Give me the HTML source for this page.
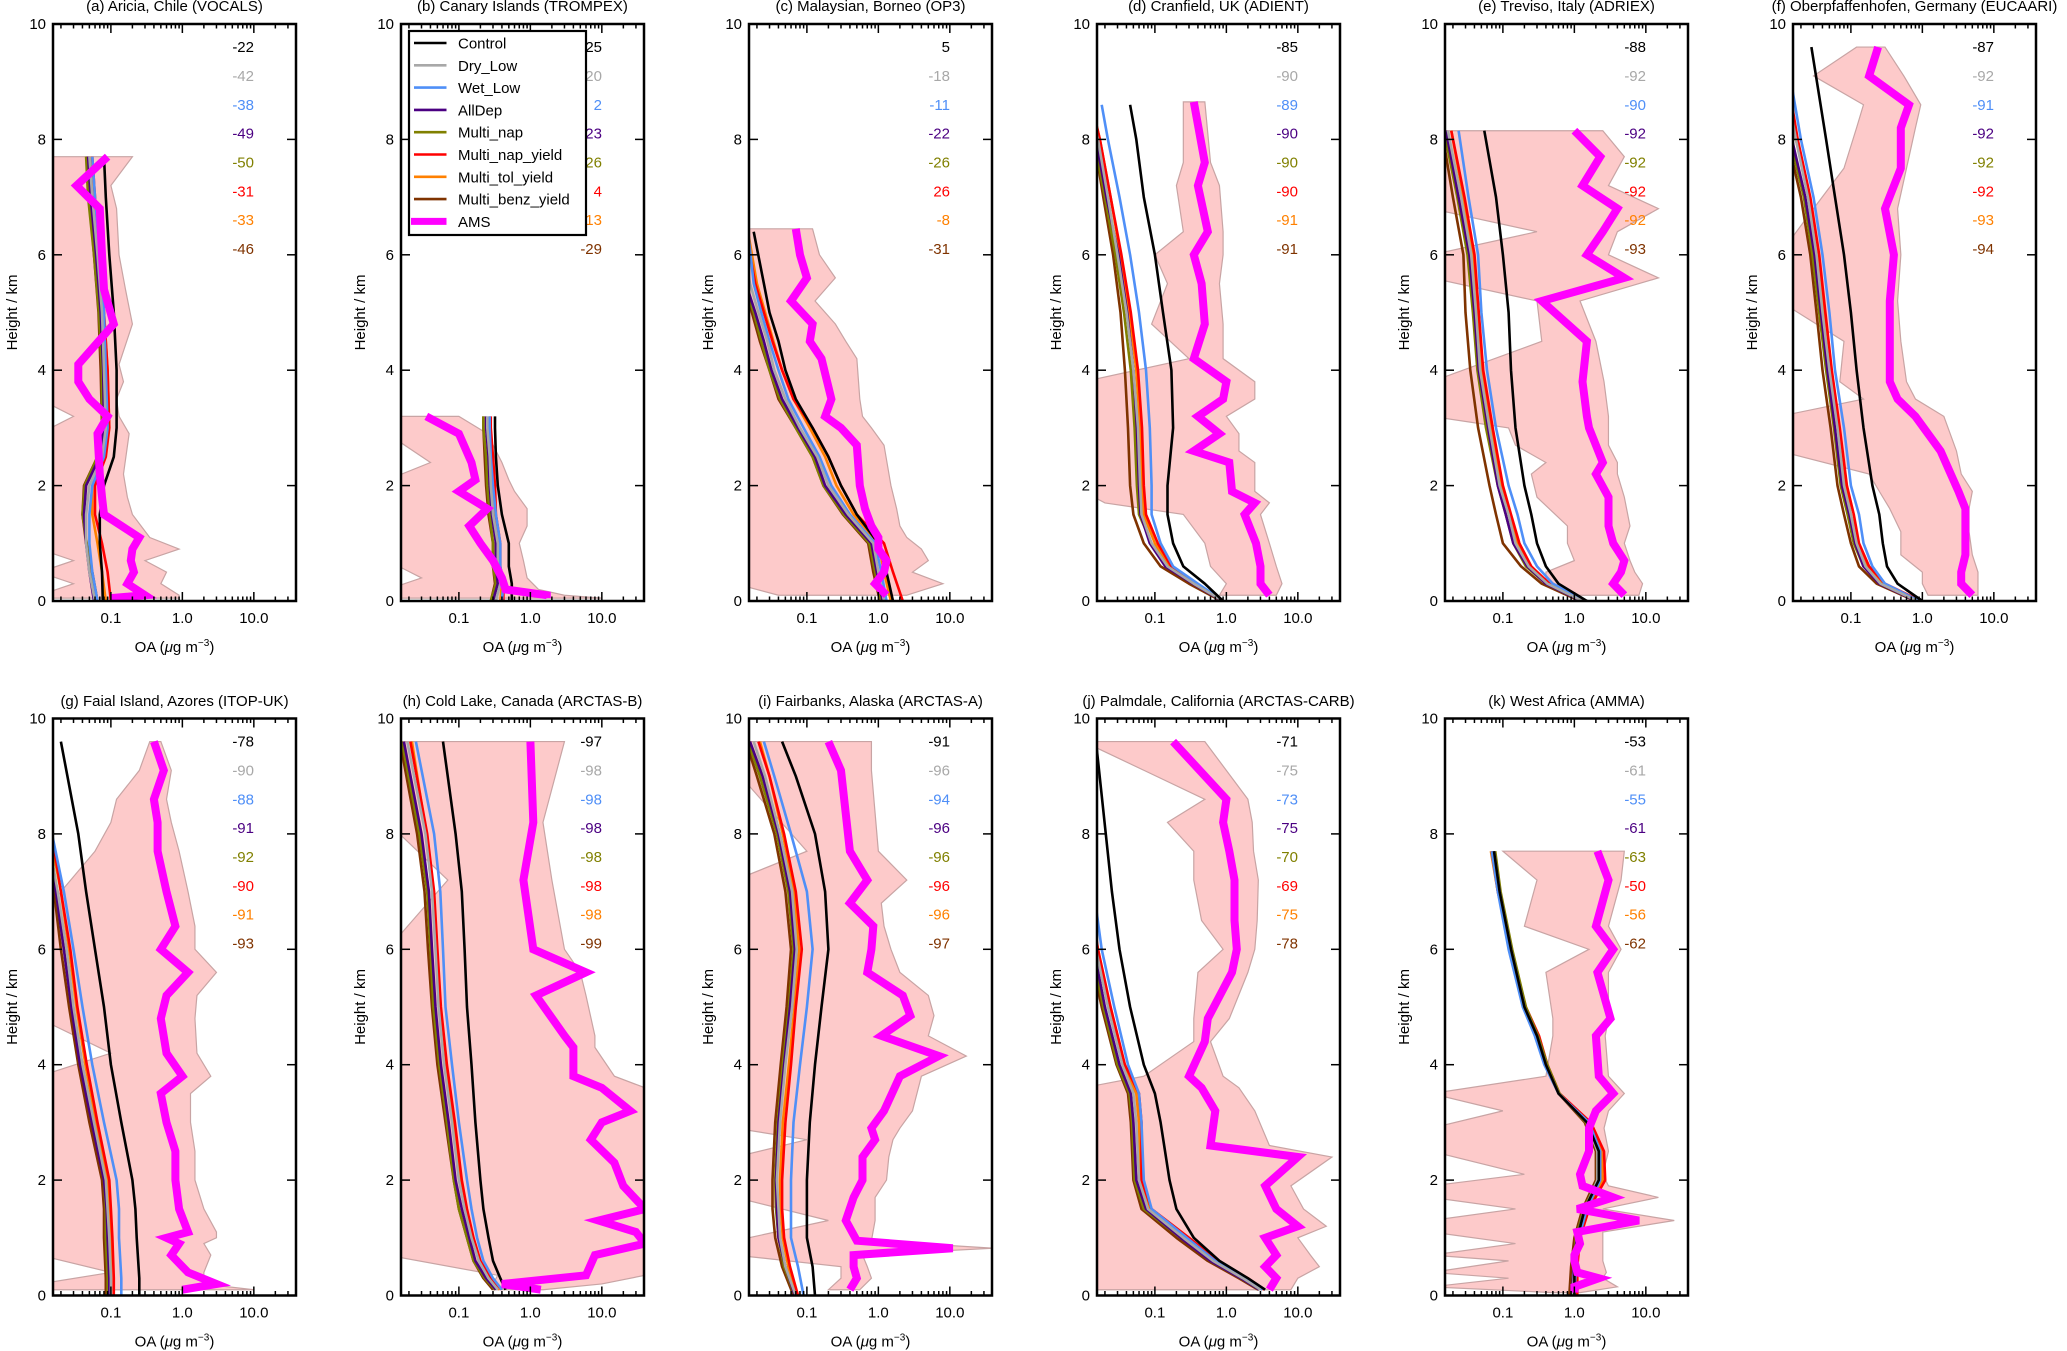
<!DOCTYPE html>
<html><head><meta charset="utf-8"><title>OA vertical profiles</title>
<style>
html,body{margin:0;padding:0;background:#fff;}
svg{display:block;font-family:"Liberation Sans","DejaVu Sans",sans-serif;}
</style></head>
<body>
<svg id="fig" xmlns="http://www.w3.org/2000/svg" width="2067" height="1351" viewBox="0 0 2067 1351"></svg>
<script>
const panelTitles = ["(a) Aricia, Chile (VOCALS)","(b) Canary Islands (TROMPEX)","(c) Malaysian, Borneo (OP3)","(d) Cranfield, UK (ADIENT)","(e) Treviso, Italy (ADRIEX)","(f) Oberpfaffenhofen, Germany (EUCAARI)","(g) Faial Island, Azores (ITOP-UK)","(h) Cold Lake, Canada (ARCTAS-B)","(i) Fairbanks, Alaska (ARCTAS-A)","(j) Palmdale, California (ARCTAS-CARB)","(k) West Africa (AMMA)"];
const seriesNames = ["Control","Dry_Low","Wet_Low","AllDep","Multi_nap","Multi_nap_yield","Multi_tol_yield","Multi_benz_yield"];
const xTickLabels = ["0.1","1.0","10.0"];
const yTickLabels = [0,2,4,6,8,10];
const biasValues = [
[-22,-42,-38,-49,-50,-31,-33,-46],
[25,-20,2,-23,-26,4,-13,-29],
[5,-18,-11,-22,-26,26,-8,-31],
[-85,-90,-89,-90,-90,-90,-91,-91],
[-88,-92,-90,-92,-92,-92,-92,-93],
[-87,-92,-91,-92,-92,-92,-93,-94],
[-78,-90,-88,-91,-92,-90,-91,-93],
[-97,-98,-98,-98,-98,-98,-98,-99],
[-91,-96,-94,-96,-96,-96,-96,-97],
[-71,-75,-73,-75,-70,-69,-75,-78],
[-53,-61,-55,-61,-63,-50,-56,-62]];
const modelHeights = [
[0,0.5,1,1.5,2,2.5,3,4,5,6,7,7.7],
[0,0.3,0.6,1,1.5,2,2.5,3,3.2],
[0,0.5,1,1.5,2,2.5,3,3.5,4,4.5,5,5.5,6.4],
[0,0.3,0.6,1,1.5,2,3,4,5,6,7,8,8.6],
[0,0.3,0.6,1,1.5,2,3,4,5,6,7,8.15],
[0,0.3,0.6,1,1.5,2,3,4,5,6,7,8,9.6],
[0,0.3,1,1.5,2,3,4,5,6,7,8,9.6],
[0.1,0.3,0.6,1,1.5,2,3,4,5,6,7,8,9.6],
[0,0.5,1,1.5,2,3,4,5,6,7,8,9,9.6],
[0.1,0.3,0.6,1,1.5,2,3,3.5,4,5,6,7,9.6],
[0,0.5,1,1.5,2,2.5,3,3.5,4,4.5,5,6,7,7.7]];
const controlOA = [
[0.077,0.075,0.07,0.07,0.08,0.11,0.12,0.12,0.11,0.095,0.085,0.08],
[0.55,0.55,0.5,0.5,0.4,0.35,0.33,0.32,0.32],
[1.6,1.3,1.0,0.5,0.3,0.2,0.12,0.07,0.05,0.04,0.03,0.025,0.018],
[0.9,0.5,0.25,0.18,0.15,0.15,0.18,0.17,0.13,0.1,0.07,0.055,0.045],
[1.5,0.6,0.4,0.3,0.25,0.2,0.15,0.13,0.12,0.1,0.08,0.055],
[1.0,0.45,0.32,0.28,0.25,0.2,0.15,0.12,0.1,0.08,0.06,0.045,0.028],
[0.25,0.25,0.23,0.22,0.2,0.14,0.1,0.08,0.06,0.045,0.035,0.02],
[0.45,0.38,0.3,0.26,0.22,0.2,0.17,0.15,0.13,0.12,0.11,0.09,0.06],
[0.13,0.12,0.1,0.1,0.1,0.11,0.13,0.16,0.2,0.18,0.13,0.07,0.045],
[3.5,2,0.8,0.35,0.2,0.16,0.12,0.1,0.07,0.045,0.032,0.025,0.015],
[1.0,1.0,1.1,1.4,2.2,2.2,1.5,0.6,0.4,0.3,0.2,0.13,0.09,0.075]];
const dryLowOA = [
[0.06,0.05,0.045,0.045,0.05,0.075,0.085,0.08,0.075,0.065,0.055,0.05],
[0.33,0.38,0.35,0.35,0.3,0.28,0.27,0.25,0.25],
[1.2,1.0,0.85,0.38,0.2,0.14,0.08,0.05,0.035,0.028,0.021,0.016,0.012],
[0.9,0.35,0.15,0.09,0.065,0.062,0.058,0.05,0.04,0.03,0.022,0.016,0.012],
[1.3,0.42,0.23,0.15,0.12,0.09,0.065,0.048,0.042,0.036,0.026,0.017],
[0.85,0.26,0.16,0.12,0.1,0.08,0.065,0.05,0.04,0.033,0.025,0.017,0.01],
[0.1,0.1,0.095,0.09,0.085,0.058,0.04,0.03,0.024,0.018,0.013,0.008],
[0.35,0.26,0.19,0.15,0.12,0.1,0.08,0.062,0.052,0.047,0.042,0.034,0.019],
[0.07,0.05,0.042,0.04,0.038,0.042,0.05,0.062,0.072,0.062,0.042,0.026,0.018],
[3.0,1.7,0.65,0.25,0.08,0.06,0.055,0.05,0.035,0.022,0.015,0.011,0.005],
[0.95,1.0,1.1,1.4,2.1,2.1,1.5,0.6,0.4,0.3,0.2,0.13,0.09,0.075]];
const wetLowOA = [
[0.065,0.055,0.05,0.05,0.055,0.08,0.09,0.085,0.08,0.07,0.06,0.055],
[0.4,0.42,0.38,0.38,0.33,0.3,0.28,0.27,0.27],
[1.3,1.1,0.9,0.4,0.22,0.15,0.09,0.055,0.04,0.03,0.023,0.018,0.015],
[0.9,0.4,0.18,0.12,0.09,0.09,0.085,0.075,0.06,0.045,0.032,0.022,0.018],
[1.4,0.5,0.3,0.2,0.16,0.12,0.08,0.06,0.05,0.045,0.033,0.024],
[0.9,0.3,0.2,0.15,0.13,0.1,0.08,0.06,0.05,0.04,0.03,0.02,0.012],
[0.14,0.14,0.13,0.13,0.12,0.08,0.055,0.04,0.03,0.022,0.015,0.009],
[0.4,0.3,0.22,0.18,0.15,0.13,0.1,0.08,0.065,0.06,0.055,0.045,0.025],
[0.09,0.075,0.06,0.06,0.06,0.065,0.08,0.1,0.12,0.1,0.06,0.035,0.025],
[3.2,1.8,0.7,0.28,0.09,0.07,0.065,0.06,0.042,0.027,0.018,0.014,0.006],
[1.0,1.05,1.15,1.5,2.3,2.3,1.6,0.6,0.38,0.28,0.19,0.12,0.085,0.07]];
const allDepOA = [
[0.058,0.05,0.045,0.042,0.045,0.07,0.08,0.078,0.072,0.062,0.052,0.048],
[0.3,0.35,0.33,0.33,0.29,0.27,0.26,0.24,0.24],
[1.15,0.95,0.8,0.35,0.18,0.13,0.075,0.045,0.032,0.025,0.019,0.014,0.01],
[0.88,0.34,0.14,0.085,0.063,0.06,0.056,0.05,0.041,0.031,0.021,0.015,0.011],
[1.25,0.4,0.22,0.14,0.11,0.085,0.062,0.046,0.04,0.034,0.024,0.016],
[0.82,0.25,0.15,0.115,0.095,0.075,0.06,0.047,0.038,0.031,0.023,0.015,0.009],
[0.095,0.095,0.09,0.087,0.08,0.054,0.037,0.028,0.022,0.017,0.012,0.007],
[0.33,0.24,0.17,0.14,0.11,0.09,0.072,0.056,0.047,0.042,0.038,0.03,0.017],
[0.068,0.05,0.04,0.038,0.037,0.04,0.048,0.058,0.068,0.058,0.04,0.024,0.016],
[2.9,1.6,0.6,0.23,0.075,0.055,0.05,0.046,0.032,0.02,0.014,0.01,0.005],
[0.92,0.98,1.08,1.4,2.2,2.2,1.5,0.6,0.4,0.3,0.2,0.13,0.09,0.075]];
const multiNapOA = [
[0.062,0.052,0.046,0.04,0.043,0.065,0.075,0.075,0.068,0.058,0.048,0.045],
[0.28,0.33,0.3,0.3,0.27,0.25,0.24,0.22,0.22],
[1.1,0.9,0.75,0.33,0.17,0.12,0.07,0.042,0.03,0.023,0.018,0.013,0.01],
[0.88,0.35,0.15,0.09,0.06,0.056,0.052,0.046,0.037,0.028,0.02,0.014,0.01],
[1.25,0.4,0.21,0.14,0.11,0.085,0.058,0.044,0.038,0.032,0.023,0.015],
[0.85,0.26,0.15,0.11,0.09,0.072,0.058,0.045,0.036,0.029,0.022,0.014,0.008],
[0.09,0.09,0.085,0.085,0.08,0.055,0.038,0.028,0.022,0.017,0.012,0.007],
[0.32,0.23,0.16,0.13,0.1,0.085,0.068,0.053,0.044,0.04,0.036,0.028,0.016],
[0.068,0.048,0.04,0.037,0.036,0.039,0.046,0.056,0.065,0.055,0.038,0.022,0.015],
[2.9,1.6,0.6,0.23,0.07,0.052,0.048,0.044,0.03,0.019,0.013,0.009,0.004],
[0.92,0.98,1.05,1.35,2.1,2.1,1.45,0.62,0.42,0.31,0.21,0.135,0.093,0.078]];
const multiNapYieldOA = [
[0.1,0.09,0.075,0.06,0.06,0.085,0.095,0.09,0.08,0.07,0.06,0.055],
[0.42,0.42,0.38,0.38,0.33,0.32,0.3,0.28,0.28],
[2.2,1.6,1.2,0.5,0.3,0.2,0.12,0.065,0.045,0.033,0.025,0.019,0.014],
[0.9,0.38,0.17,0.11,0.075,0.07,0.066,0.058,0.046,0.034,0.024,0.017,0.013],
[1.5,0.45,0.25,0.17,0.13,0.1,0.072,0.053,0.046,0.04,0.029,0.019],
[0.95,0.3,0.18,0.13,0.11,0.088,0.07,0.054,0.044,0.036,0.027,0.018,0.011],
[0.11,0.11,0.105,0.1,0.095,0.065,0.046,0.034,0.027,0.02,0.015,0.009],
[0.4,0.28,0.2,0.16,0.13,0.11,0.088,0.068,0.056,0.05,0.045,0.036,0.021],
[0.075,0.058,0.048,0.045,0.045,0.05,0.06,0.07,0.085,0.07,0.048,0.03,0.021],
[3.4,2.0,0.75,0.3,0.09,0.065,0.065,0.06,0.038,0.024,0.016,0.012,0.005],
[1.1,1.1,1.2,1.6,2.7,2.6,1.7,0.62,0.42,0.32,0.21,0.13,0.085,0.07]];
const multiTolYieldOA = [
[0.085,0.075,0.065,0.055,0.055,0.08,0.095,0.09,0.08,0.068,0.058,0.053],
[0.38,0.4,0.36,0.36,0.31,0.3,0.29,0.27,0.27],
[1.5,1.2,1.0,0.45,0.26,0.18,0.11,0.065,0.045,0.034,0.026,0.02,0.015],
[0.9,0.37,0.16,0.1,0.07,0.066,0.062,0.055,0.044,0.033,0.024,0.017,0.013],
[1.4,0.43,0.24,0.16,0.125,0.095,0.068,0.05,0.044,0.038,0.028,0.019],
[0.92,0.28,0.17,0.125,0.1,0.083,0.066,0.051,0.041,0.034,0.026,0.017,0.01],
[0.1,0.1,0.1,0.095,0.09,0.062,0.044,0.033,0.026,0.02,0.014,0.008],
[0.37,0.27,0.19,0.155,0.125,0.105,0.083,0.064,0.054,0.048,0.043,0.035,0.022],
[0.072,0.055,0.046,0.043,0.042,0.046,0.056,0.067,0.078,0.066,0.046,0.03,0.022],
[3.2,1.8,0.7,0.27,0.085,0.063,0.06,0.055,0.036,0.023,0.016,0.011,0.005],
[1.05,1.05,1.15,1.5,2.5,2.4,1.6,0.6,0.4,0.3,0.2,0.13,0.085,0.068]];
const multiBenzYieldOA = [
[0.065,0.055,0.045,0.04,0.042,0.065,0.075,0.072,0.067,0.058,0.05,0.046],
[0.28,0.32,0.3,0.3,0.26,0.24,0.23,0.22,0.22],
[1.05,0.85,0.72,0.32,0.17,0.12,0.07,0.04,0.03,0.022,0.017,0.013,0.01],
[0.85,0.3,0.12,0.07,0.05,0.045,0.042,0.038,0.033,0.026,0.019,0.014,0.01],
[1.2,0.35,0.18,0.1,0.08,0.065,0.045,0.035,0.03,0.028,0.02,0.014],
[0.8,0.23,0.13,0.1,0.08,0.065,0.052,0.04,0.033,0.027,0.02,0.013,0.008],
[0.085,0.085,0.08,0.08,0.075,0.05,0.035,0.026,0.02,0.016,0.011,0.006],
[0.3,0.22,0.16,0.13,0.1,0.085,0.065,0.05,0.042,0.037,0.033,0.026,0.015],
[0.065,0.045,0.036,0.033,0.033,0.036,0.043,0.052,0.06,0.05,0.035,0.02,0.014],
[2.8,1.5,0.55,0.2,0.065,0.05,0.046,0.042,0.029,0.018,0.012,0.009,0.004],
[0.85,0.9,1.0,1.3,2.0,2.0,1.4,0.6,0.4,0.3,0.2,0.13,0.09,0.075]];
const amsHeights = [
[0.05,0.1,0.3,0.5,0.7,0.9,1.1,1.5,1.8,2.2,2.9,3.2,3.5,3.8,4.1,4.8,5.4,6.0,6.8,7.2,7.7],
[0.05,0.1,0.2,0.4,0.7,1.0,1.3,1.6,1.9,2.1,2.4,2.9,3.2],
[0.1,0.3,0.5,0.7,0.9,1.1,1.3,1.6,2,2.7,3,3.2,3.5,4.2,4.5,4.8,5.2,5.6,6,6.45],
[0.1,0.3,0.6,1,1.5,1.7,1.9,2.4,2.6,2.9,3.2,3.5,3.8,4.2,4.8,5.5,6,6.4,7.2,7.6,8.65],
[0.1,0.3,0.5,0.7,1.0,1.3,1.8,2.2,2.4,2.7,3.0,3.2,3.8,4.5,5.2,5.6,6.0,6.4,6.8,7.2,7.7,8.15],
[0.1,0.3,0.5,0.8,1.2,1.6,1.9,2.2,2.6,3.2,3.5,3.8,4.5,5.2,6,6.8,7.5,8.2,8.6,9.1,9.6],
[0.1,0.2,0.4,0.7,0.9,1.0,1.1,1.5,2,2.5,3,3.5,3.8,4.2,4.8,5.2,5.6,6,6.4,7,7.7,8.2,8.6,9.1,9.6],
[0.1,0.2,0.35,0.7,0.9,1.1,1.3,1.5,1.9,2.3,2.7,3.0,3.2,3.6,3.8,4.3,4.5,5.2,5.6,6,7.2,8.2,9.6],
[0.1,0.3,0.5,0.7,0.82,0.95,1.3,1.7,2.0,2.4,2.7,2.9,3.2,3.8,4.15,4.5,4.85,5.2,5.6,6,6.4,6.8,7.2,7.7,9.1,9.6],
[0.1,0.3,0.5,0.7,1.0,1.2,1.5,1.9,2.4,2.6,3.2,3.6,3.8,4.4,4.8,5.6,6,6.5,7.2,7.7,8.2,8.6,9.6],
[0.05,0.15,0.3,0.4,0.6,0.7,0.9,1.1,1.3,1.5,1.7,1.9,2.1,2.5,2.9,3.2,3.5,3.8,4.5,4.8,5.6,6,6.4,7.2,7.7]];
const amsOA = [
[0.1,0.3,0.17,0.21,0.19,0.2,0.25,0.08,0.075,0.07,0.065,0.09,0.05,0.035,0.035,0.11,0.08,0.075,0.07,0.033,0.09],
[1.7,1.7,0.45,0.4,0.3,0.2,0.14,0.25,0.1,0.17,0.15,0.1,0.035],
[1.3,0.9,1.2,1.3,1.0,1.0,0.8,0.65,0.55,0.5,0.3,0.18,0.22,0.16,0.11,0.12,0.06,0.1,0.08,0.07],
[4,3,3,2.6,1.8,2.5,1.2,1.1,0.35,0.8,0.4,0.9,1.0,0.35,0.5,0.45,0.35,0.55,0.4,0.5,0.35],
[5,3.5,4.5,5,3.5,3,3,2,2.5,2,1.6,1.5,1.3,1.5,0.35,5,1.5,2.5,4,1.3,2.3,1.0],
[5,3.5,3.5,4,4,4,3.2,2.5,1.8,0.8,0.45,0.35,0.35,0.35,0.4,0.3,0.5,0.5,0.65,0.18,0.24],
[1,3,1.2,0.7,0.9,0.6,1.2,0.9,0.8,0.8,0.6,0.5,1.0,0.6,0.5,0.6,1.2,0.5,0.8,0.6,0.45,0.45,0.4,0.55,0.4],
[1.4,0.4,6,8,40,30,9,40,20,15,7,10,25,10,4,4,3,1.2,6,1.1,0.8,1.1,1.0],
[0.4,0.5,0.45,0.45,11,0.5,0.35,0.45,0.6,0.6,0.9,0.8,1.2,2,7,1.1,2.8,2.2,0.7,0.8,0.85,0.4,0.7,0.4,0.3,0.2],
[4,5,3.5,5,3.5,10,5,3.5,10,0.6,0.7,0.45,0.3,0.5,0.55,1.2,1.4,1.3,1.3,1.1,0.9,1.0,0.18],
[1.0,1.0,2.2,1.1,1.0,1.0,1.2,1.1,8,1.1,3.5,1.3,1.2,1.6,1.6,2,3.5,2.2,2.0,3.2,2.1,3.5,2.0,3.0,2.1]];
const rangeMaxOA = [
[0.9,0.9,0.5,0.6,0.3,0.9,0.35,0.2,0.17,0.15,0.18,0.13,0.12,0.15,0.13,0.2,0.16,0.13,0.12,0.1,0.2],
[10,3,1.3,0.9,0.8,0.7,0.9,0.9,0.6,0.5,0.4,0.25,0.1],
[2.5,8,3,5,4,2.5,2,1.8,1.5,1.2,0.8,0.6,0.55,0.5,0.35,0.25,0.13,0.25,0.15,0.12],
[5,6,5,4,3,4,2.5,2.5,1.5,1.5,1.0,2.5,2.5,0.9,0.9,0.8,0.9,0.9,0.8,0.6,0.5],
[8,9,7,6,5,6,5,4,4,3,3,3,2.6,2,1.2,15,3,4,15,3,5,2.5],
[6,6,6,5,4.5,4.5,5,3.5,3,2,0.8,0.6,0.5,0.45,0.5,0.45,0.6,0.8,0.95,0.55,0.3],
[10,2,2,2.5,2,3,3,2,1.5,1.5,1.3,1.3,2.5,1.6,1.5,1.6,3,1.5,1.5,1.2,0.9,0.7,0.6,0.7,0.5],
[1.5,10,40,40,40,40,40,40,40,40,40,40,40,40,15,8,8,6,5,3,2,1.5,3],
[0.55,0.8,0.7,0.6,40,0.8,0.9,0.9,1.3,1.4,1.6,2,3,4,17,5,6,5,2,1.5,1.2,1.1,2.5,1,0.8,0.8],
[8,10,20,15,10,25,12,8,30,4,2.5,1.5,0.9,0.6,1.1,2,2.5,2.7,2.8,2.4,2.3,2.0,0.5],
[1.2,4,2.5,2.8,2.5,2.5,2.5,2.5,25,2.5,15,3,2.5,3,2.6,3,5,3,2.7,3,3,4.5,3,4.5,5]];
const rangeMinOA = [
[0.01,0.01,0.03,0.01,0.03,0.01,0.01,0.01,0.01,0.01,0.01,0.03,0.01,0.01,0.01,0.01,0.01,0.01,0.01,0.01,0.01],
[0.01,0.01,0.01,0.03,0.01,0.01,0.01,0.01,0.01,0.01,0.04,0.01,0.01],
[0.04,0.01,0.01,0.01,0.01,0.01,0.01,0.01,0.01,0.01,0.01,0.01,0.01,0.01,0.01,0.01,0.01,0.01,0.01,0.01],
[0.8,1.0,0.6,0.5,0.25,0.02,0.01,0.01,0.01,0.01,0.01,0.01,0.01,0.3,0.09,0.15,0.1,0.25,0.2,0.25,0.25],
[0.8,0.4,0.4,1.0,0.8,0.8,0.3,0.25,0.4,0.15,0.12,0.01,0.01,0.35,0.3,0.01,0.01,0.3,0.01,0.01,0.01,0.01],
[1.2,1.0,1.0,0.5,0.5,0.35,0.25,0.18,0.01,0.01,0.15,0.07,0.08,0.01,0.01,0.03,0.08,0.12,0.15,0.03,0.12],
[0.01,0.01,0.1,0.01,0.01,0.01,0.01,0.01,0.01,0.01,0.01,0.01,0.01,0.1,0.01,0.01,0.01,0.01,0.01,0.02,0.06,0.1,0.12,0.25,0.35],
[0.3,0.3,0.35,0.01,0.01,0.01,0.01,0.01,0.01,0.01,0.01,0.01,0.01,0.01,0.01,0.01,0.01,0.01,0.01,0.01,0.07,0.01,0.01],
[0.2,0.3,0.3,0.01,0.01,0.01,0.2,0.01,0.01,0.01,0.1,0.01,0.01,0.01,0.01,0.01,0.01,0.01,0.01,0.01,0.01,0.01,0.01,0.1,0.01,0.01],
[0.01,0.01,0.01,0.01,0.01,0.01,0.01,0.01,0.01,0.01,0.01,0.01,0.07,0.35,0.35,0.4,0.9,0.45,0.35,0.35,0.15,0.5,0.01],
[0.5,0.01,0.12,0.01,0.12,0.01,0.15,0.01,0.01,0.15,0.01,0.01,0.2,0.01,0.01,0.1,0.01,0.4,0.5,0.5,0.4,1.6,0.2,0.3,0.1]];

const seriesColors = ["#000000","#a8a8a8","#4f8ff7","#4b0082","#808000","#ff0000","#ff8000","#7f3300"];
const seriesData = [controlOA,dryLowOA,wetLowOA,allDepOA,multiNapOA,multiNapYieldOA,multiTolYieldOA,multiBenzYieldOA];

const NS = "http://www.w3.org/2000/svg";
const svg = document.getElementById("fig");
const PW = 243, PH = 577, LOGMIN = -1.81, DEC = PW / 3.4;
function el(tag, attrs, parent) {
  const e = document.createElementNS(NS, tag);
  for (const k in attrs) e.setAttribute(k, attrs[k]);
  (parent || svg).appendChild(e);
  return e;
}
const defs = el("defs", {});

panelTitles.forEach((title, p) => {
  const col = p % 6, row = Math.floor(p / 6);
  const L = 53 + 348 * col, T = row ? 718.5 : 24, B = T + PH, R = L + PW;
  const xs = v => L + (Math.log10(Math.max(v, 1e-4)) - LOGMIN) * DEC;
  const ys = h => B - h / 10 * PH;

  const g = el("g", {});
  
  

  const cp = el("clipPath", {id: "clip" + p}, defs);
  el("rect", {x: L, y: T, width: PW, height: PH}, cp);
  const plot = el("g", {"clip-path": "url(#clip" + p + ")"}, g);

  const hs = amsHeights[p];
  let pts = hs.map((h, i) => xs(rangeMaxOA[p][i]) + "," + ys(h));
  for (let i = hs.length - 1; i >= 0; i--) pts.push(xs(rangeMinOA[p][i]) + "," + ys(hs[i]));
  const shade = el("polygon", {points: pts.join(" "), fill: "#fdcaca", stroke: "#c8a4a4", "stroke-width": 1.2}, plot);
  
  

  const mh = modelHeights[p];
  for (let s = seriesData.length - 1; s >= 0; s--) {
    const d = mh.map((h, i) => (i ? "L" : "M") + xs(seriesData[s][p][i]).toFixed(1) + "," + ys(h).toFixed(1)).join("");
    const ln = el("path", {d: d, fill: "none", stroke: seriesColors[s], "stroke-width": 2.6, "stroke-linejoin": "round"}, plot);
    
    
  }
  const da = hs.map((h, i) => (i ? "L" : "M") + xs(amsOA[p][i]).toFixed(1) + "," + ys(h).toFixed(1)).join("");
  const ams = el("path", {d: da, fill: "none", stroke: "#ff00ff", "stroke-width": 8, "stroke-linejoin": "miter"}, plot);
  
  

  const tk = el("g", {stroke: "#000", "stroke-width": 1.5}, g);
  for (let e = -2; e <= 1; e++) for (let m = 1; m <= 9; m++) {
    const v = m * Math.pow(10, e), x = xs(v);
    if (x < L + 1 || x > R - 1) continue;
    const len = m === 1 ? 9 : 4.5;
    el("line", {x1: x, y1: B, x2: x, y2: B - len}, tk);
    el("line", {x1: x, y1: T, x2: x, y2: T + len}, tk);
  }
  yTickLabels.forEach(h => {
    el("line", {x1: L, y1: ys(h), x2: L + 9, y2: ys(h)}, tk);
    el("line", {x1: R, y1: ys(h), x2: R - 9, y2: ys(h)}, tk);
    const t = el("text", {x: L - 7, y: ys(h) + 5, "text-anchor": "end", "font-size": 15}, g);
    t.textContent = h;
    
    
  });
  xTickLabels.forEach(lbl => {
    const t = el("text", {x: xs(parseFloat(lbl)), y: B + 22, "text-anchor": "middle", "font-size": 15}, g);
    t.textContent = lbl;
    
    
  });
  const fr = el("rect", {x: L, y: T, width: PW, height: PH, fill: "none", stroke: "#000", "stroke-width": 2.5}, g);
  
  

  const tt = el("text", {x: L + PW / 2, y: row ? 706 : 11, "text-anchor": "middle", "font-size": 15}, g);
  tt.textContent = title;
  
  
  const xl = el("text", {x: L + PW / 2, y: B + 51, "text-anchor": "middle", "font-size": 15}, g);
  xl.innerHTML = 'OA (<tspan font-style="italic">μ</tspan>g m<tspan font-size="10" dy="-6">−3</tspan><tspan dy="6">)</tspan>';
  
  
  const yl = el("text", {x: 0, y: 0, "text-anchor": "middle", "font-size": 15, transform: "translate(" + (L - 36) + "," + (T + PH / 2) + ") rotate(-90)"}, g);
  yl.textContent = "Height / km";
  
  

  biasValues[p].forEach((v, i) => {
    const t = el("text", {x: L + 201, y: ys(9.6 - 0.5 * i) + 5, "text-anchor": "end", "font-size": 15, fill: seriesColors[i]}, g);
    t.textContent = v;
    
    
  });
});

const lg = el("g", {});


el("rect", {x: 409, y: 31, width: 177, height: 204, fill: "#fff", stroke: "#000", "stroke-width": 2.2}, lg);
const legendNames = seriesNames.concat(["AMS"]);
const legendColors = seriesColors.concat(["#ff00ff"]);
legendNames.forEach((n, i) => {
  const y = 43 + 22.3 * i;
  const ent = el("g", {}, lg);
  
  
  el("line", {x1: i === 8 ? 411 : 414, y1: y, x2: 446.5, y2: y, stroke: legendColors[i], "stroke-width": i === 8 ? 7 : 2.6}, ent);
  const t = el("text", {x: 458, y: y + 5.5, "font-size": 15}, ent);
  t.textContent = n;
});
</script>
</body></html>
